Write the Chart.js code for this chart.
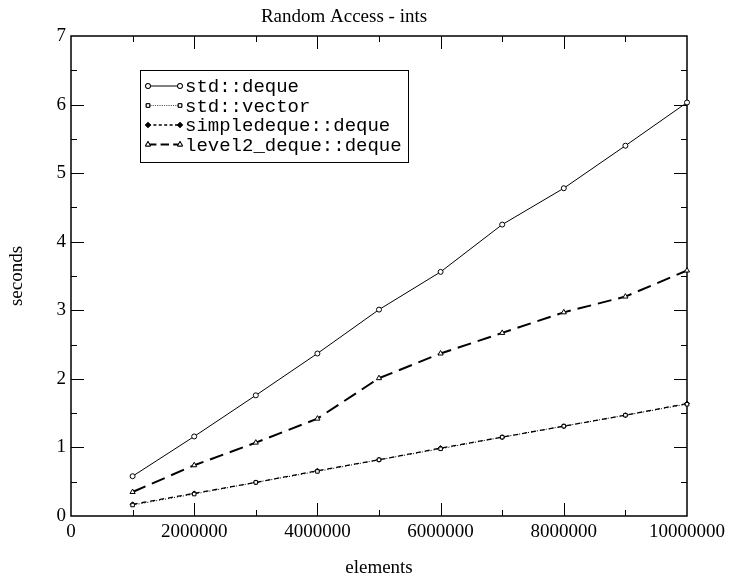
<!DOCTYPE html>
<html>
<head>
<meta charset="utf-8">
<script src="https://cdn.jsdelivr.net/npm/chart.js@4"></script>
<style>
  body { margin: 0; background: #fff; }
</style>
</head>
<body>
<canvas id="chart" width="730" height="583"></canvas>
<script>
const elements = [1000000, 2000000, 3000000, 4000000, 5000000, 6000000, 7000000, 8000000, 9000000, 10000000];
const stdDeque = [0.58, 1.16, 1.76, 2.37, 3.01, 3.56, 4.25, 4.78, 5.40, 6.03];
const stdVector = [0.16, 0.32, 0.49, 0.65, 0.82, 0.98, 1.15, 1.31, 1.47, 1.63];
const simpleDeque = [0.17, 0.33, 0.49, 0.66, 0.82, 0.99, 1.15, 1.31, 1.47, 1.64];
const level2Deque = [0.35, 0.74, 1.07, 1.42, 2.01, 2.37, 2.67, 2.97, 3.20, 3.58];

const serif = "'Liberation Serif', 'DejaVu Serif', serif";
const mono = "'Liberation Mono', 'DejaVu Sans Mono', monospace";

function pts(vals) {
  return vals.map((v, i) => ({ x: elements[i], y: v }));
}

const series = [
  { label: "std::deque", data: stdDeque, dash: [], width: 1, style: "circle", r: 2.5, fill: "#fff" },
  { label: "std::vector", data: stdVector, dash: [1, 2], width: 1, style: "rect", r: 2.5, fill: "#fff" },
  { label: "simpledeque::deque", data: simpleDeque, dash: [5, 4], width: 1.3, style: "rectRot", r: 2.5, fill: "#000" },
  { label: "level2_deque::deque", data: level2Deque, dash: [14, 7], width: 2, style: "triangle", r: 3, fill: "#fff" },
];

// cadre + graduations vers l'intérieur sur les 4 côtés
const framePlugin = {
  id: "frame",
  beforeDatasetsDraw(chart) {
    const { ctx, chartArea: a, scales } = chart;
    ctx.save();
    ctx.strokeStyle = "#000";
    ctx.lineWidth = 1.5;
    ctx.strokeRect(a.left, a.top, a.right - a.left, a.bottom - a.top);
    ctx.lineWidth = 1;
    ctx.beginPath();
    for (let v = 1000000; v < 10000000; v += 1000000) {
      const x = Math.round(scales.x.getPixelForValue(v)) + 0.5;
      const len = v % 2000000 === 0 ? 13 : 6;
      ctx.moveTo(x, a.bottom); ctx.lineTo(x, a.bottom - len);
      ctx.moveTo(x, a.top); ctx.lineTo(x, a.top + len);
    }
    for (let v = 0.5; v < 7; v += 0.5) {
      const y = Math.round(scales.y.getPixelForValue(v)) + 0.5;
      const len = v % 1 === 0 ? 13 : 6;
      ctx.moveTo(a.left, y); ctx.lineTo(a.left + len, y);
      ctx.moveTo(a.right, y); ctx.lineTo(a.right - len, y);
    }
    ctx.stroke();
    ctx.restore();
  },
};

// légende encadrée dans la zone du graphique
const legendPlugin = {
  id: "boxLegend",
  afterDatasetsDraw(chart) {
    const ctx = chart.ctx;
    const bx = 140, by = 70, bw = 268, bh = 92, row = 19.5;
    ctx.save();
    ctx.fillStyle = "#fff";
    ctx.fillRect(bx, by, bw, bh);
    ctx.strokeStyle = "#000";
    ctx.lineWidth = 1;
    ctx.strokeRect(bx + 0.5, by + 0.5, bw, bh);
    ctx.font = "19px " + mono;
    ctx.textBaseline = "middle";
    chart.data.datasets.forEach((ds, i) => {
      const y = by + 16 + i * row;
      ctx.strokeStyle = "#000";
      ctx.lineWidth = ds.borderWidth;
      ctx.setLineDash(ds.borderDash.map((d) => d * 0.6));
      ctx.beginPath();
      ctx.moveTo(148, y); ctx.lineTo(180, y);
      ctx.stroke();
      ctx.setLineDash([]);
      ctx.lineWidth = 1;
      [148, 180].forEach((x) => {
        Chart.helpers.drawPoint(ctx, {
          pointStyle: ds.pointStyle, radius: ds.pointRadius, borderWidth: 1,
        }, x, y);
        ctx.fillStyle = ds.pointBackgroundColor;
        ctx.fill();
        ctx.stroke();
      });
      ctx.fillStyle = "#000";
      ctx.fillText(ds.label, 185, y + 1);
    });
    ctx.restore();
  },
};

new Chart(document.getElementById("chart"), {
  type: "line",
  data: {
    datasets: series.map((s) => ({
      label: s.label,
      data: pts(s.data),
      borderColor: "#000",
      borderWidth: s.width,
      borderDash: s.dash,
      pointStyle: s.style,
      pointRadius: s.r,
      pointBorderWidth: 1,
      pointBorderColor: "#000",
      pointBackgroundColor: s.fill,
      tension: 0,
      clip: false,
    })),
  },
  options: {
    responsive: false,
    animation: false,
    layout: { padding: { top: 0, right: 42, bottom: 0, left: 0 } },
    plugins: {
      legend: { display: false },
      tooltip: { enabled: false },
      title: {
        display: true,
        text: "Random Access - ints",
        color: "#000",
        font: { family: serif, size: 19, weight: "normal" },
        padding: { top: 6, bottom: 7.2 },
      },
    },
    scales: {
      x: {
        type: "linear",
        min: 0,
        max: 10000000,
        border: { display: false },
        grid: { display: false, drawTicks: false },
        afterFit: (s) => { s.height = 67; },
        ticks: {
          stepSize: 2000000,
          padding: 5,
          maxRotation: 0,
          color: "#000",
          font: { family: serif, size: 19 },
          callback: (v) => String(v),
        },
        title: {
          display: true,
          text: "elements",
          color: "#000",
          font: { family: serif, size: 19 },
          padding: { top: 0, bottom: 4 },
        },
      },
      y: {
        min: 0,
        max: 7,
        border: { display: false },
        grid: { display: false, drawTicks: false },
        afterFit: (s) => { s.width = 71; },
        ticks: {
          stepSize: 1,
          padding: 5,
          color: "#000",
          font: { family: serif, size: 19 },
        },
        title: {
          display: true,
          text: "seconds",
          color: "#000",
          font: { family: serif, size: 19 },
          padding: { top: 6, bottom: 0 },
        },
      },
    },
  },
  plugins: [framePlugin, legendPlugin],
});
</script>
</body>
</html>
